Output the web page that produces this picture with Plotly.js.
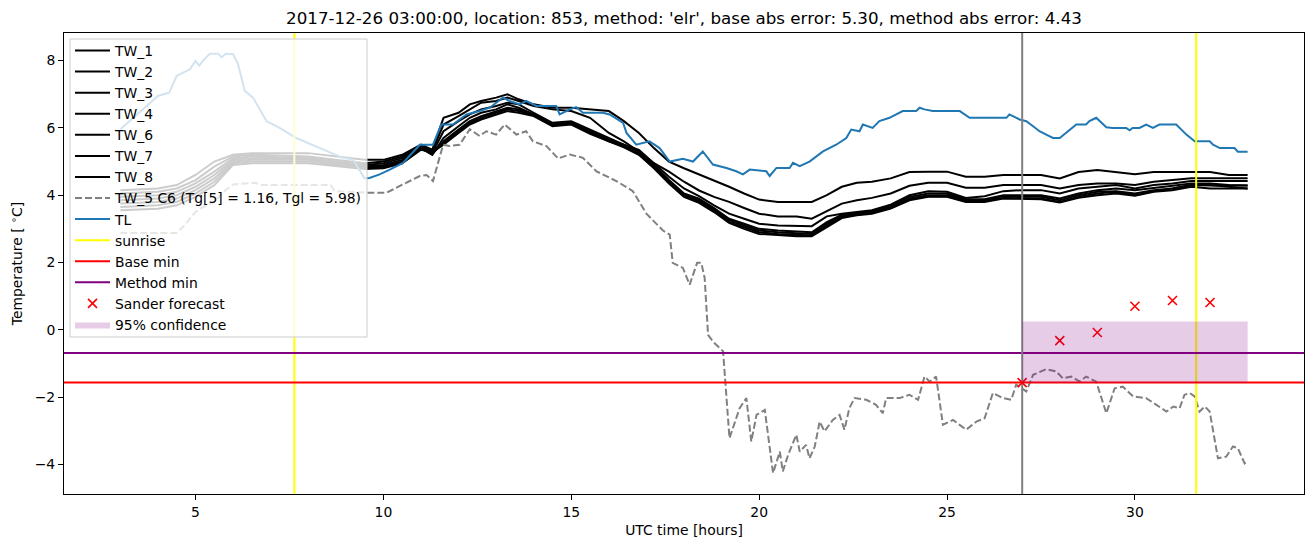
<!DOCTYPE html>
<html>
<head>
<meta charset="utf-8">
<script src="https://cdn.plot.ly/plotly-3.0.1.min.js"></script>
<style>html,body{margin:0;padding:0;background:#fff}#chart{width:1313px;height:547px}</style>
</head>
<body>
<div id="chart"></div>
<script>
// ---------- data ----------
const chartTitle = "2017-12-26 03:00:00, location: 853, method: 'elr', base abs error: 5.30, method abs error: 4.43";

const twHours = [3, 4, 4.5, 5, 5.5, 6, 6.5, 8, 9.5, 10, 10.5, 11, 11.3, 11.6, 12, 12.3, 12.6, 13, 13.3, 13.6,
  14, 14.5, 15, 15.5, 16, 16.4, 16.8, 17.2, 17.6, 18, 18.4, 18.8, 19.2, 19.6, 20, 20.5, 21, 21.4, 21.8, 22.2,
  22.6, 23, 23.5, 24, 24.5, 25, 25.5, 26, 26.5, 27, 27.5, 28, 28.5, 29, 29.5, 30, 30.5, 31, 31.5, 32, 32.5, 33];

const tw1 = [4.15, 4.2, 4.3, 4.6, 5.0, 5.2, 5.25, 5.25, 5.05, 5.05, 5.2, 5.5, 5.35, 6.3, 6.45, 6.7, 6.8, 6.9, 7.0, 6.85,
  6.7, 6.6, 6.6, 6.55, 6.5, 6.2, 5.85, 5.4, 5.0, 4.8, 4.62, 4.45, 4.25, 4.05, 3.87, 3.8, 3.8, 3.8, 4.0, 4.25,
  4.37, 4.4, 4.5, 4.69, 4.7, 4.7, 4.55, 4.55, 4.6, 4.6, 4.6, 4.5, 4.69, 4.75, 4.69, 4.62, 4.69, 4.69, 4.69, 4.69, 4.6, 4.6];
const tw2 = [4.05, 4.1, 4.2, 4.45, 4.85, 5.15, 5.2, 5.15, 4.95, 5.0, 5.15, 5.45, 5.3, 6.1, 6.35, 6.55, 6.75, 6.8, 6.9, 6.8,
  6.65, 6.55, 6.5, 6.3, 5.85, 5.6, 5.3, 4.95, 4.7, 4.4, 4.14, 3.95, 3.8, 3.62, 3.45, 3.37, 3.37, 3.3, 3.52, 3.75,
  3.85, 3.92, 4.05, 4.28, 4.37, 4.37, 4.22, 4.22, 4.3, 4.3, 4.3, 4.2, 4.3, 4.35, 4.35, 4.3, 4.4, 4.45, 4.5, 4.5, 4.5, 4.5];
const tw3 = [3.95, 4.0, 4.1, 4.35, 4.7, 5.1, 5.15, 5.1, 4.9, 4.95, 5.1, 5.45, 5.25, 5.9, 6.2, 6.4, 6.55, 6.65, 6.75, 6.7,
  6.45, 6.15, 6.2, 5.95, 5.7, 5.5, 5.35, 4.95, 4.55, 4.2, 3.97, 3.7, 3.45, 3.3, 3.15, 3.1, 3.08, 3.08, 3.37, 3.45,
  3.5, 3.55, 3.72, 4.0, 4.12, 4.1, 3.92, 3.97, 4.12, 4.15, 4.15, 4.05, 4.2, 4.25, 4.3, 4.2, 4.3, 4.35, 4.42, 4.42, 4.42, 4.42];
const tw4 = [3.85, 3.9, 4.0, 4.25, 4.6, 5.05, 5.1, 5.1, 4.85, 4.9, 5.05, 5.4, 5.2, 5.7, 6.05, 6.3, 6.45, 6.55, 6.7, 6.6,
  6.4, 6.1, 6.15, 5.9, 5.65, 5.5, 5.3, 4.9, 4.45, 4.05, 3.9, 3.62, 3.3, 3.15, 3.0, 2.95, 2.92, 2.9, 3.2, 3.42,
  3.48, 3.52, 3.7, 3.95, 4.05, 4.05, 3.88, 3.88, 4.0, 4.0, 4.0, 3.9, 4.05, 4.15, 4.2, 4.15, 4.22, 4.29, 4.35, 4.35, 4.3, 4.29];
const tw6 = [3.75, 3.8, 3.9, 4.15, 4.5, 5.0, 5.05, 5.05, 4.82, 4.85, 5.0, 5.4, 5.22, 5.6, 5.95, 6.2, 6.35, 6.5, 6.6, 6.55,
  6.4, 6.1, 6.15, 5.85, 5.6, 5.45, 5.25, 4.85, 4.4, 4.0, 3.85, 3.58, 3.25, 3.1, 2.95, 2.9, 2.88, 2.85, 3.15, 3.38,
  3.45, 3.5, 3.65, 3.9, 4.0, 4.0, 3.85, 3.85, 3.97, 3.97, 3.95, 3.85, 4.0, 4.1, 4.12, 4.05, 4.15, 4.2, 4.3, 4.3, 4.25, 4.2];
const tw7 = [3.65, 3.7, 3.8, 4.05, 4.4, 4.95, 5.0, 5.0, 4.8, 4.82, 4.97, 5.38, 5.25, 5.55, 5.9, 6.15, 6.3, 6.45, 6.55, 6.5,
  6.38, 6.08, 6.12, 5.85, 5.62, 5.45, 5.22, 4.82, 4.38, 3.98, 3.8, 3.55, 3.2, 3.05, 2.9, 2.85, 2.82, 2.8, 3.1, 3.35,
  3.42, 3.48, 3.62, 3.88, 3.97, 3.97, 3.82, 3.82, 3.92, 3.92, 3.9, 3.8, 3.95, 4.05, 4.1, 4.0, 4.12, 4.2, 4.3, 4.29, 4.29, 4.29];
const tw8 = [3.55, 3.6, 3.7, 3.95, 4.3, 4.9, 4.95, 4.95, 4.78, 4.8, 4.95, 5.35, 5.28, 5.5, 5.85, 6.1, 6.25, 6.4, 6.5, 6.45,
  6.35, 6.05, 6.1, 5.82, 5.6, 5.42, 5.2, 4.8, 4.35, 3.95, 3.77, 3.5, 3.18, 3.0, 2.85, 2.82, 2.78, 2.78, 3.05, 3.32,
  3.4, 3.45, 3.6, 3.85, 3.95, 3.95, 3.8, 3.8, 3.9, 3.9, 3.88, 3.78, 3.92, 4.0, 4.05, 3.98, 4.1, 4.15, 4.25, 4.2, 4.2, 4.2];

const tw5Hours = [3.0, 4.5, 4.7, 5.0, 5.2, 5.5, 5.8, 6.0, 6.6, 6.7, 8.6, 8.7, 9.63, 10.08, 10.52, 10.97, 11.15, 11.32, 11.59, 11.76,
  12.03, 12.3, 12.56, 12.74, 13.0, 13.23, 13.54, 13.8, 13.98, 14.34, 14.65, 14.96, 15.31, 15.67, 16.2, 16.64, 17.0, 17.44, 17.62, 17.7,
  17.97, 18.15, 18.35, 18.46, 18.55, 18.64, 18.77, 19.04, 19.21, 19.48, 19.66, 19.79, 19.93, 20.15, 20.37, 20.55, 20.63, 20.77, 20.99, 21.08,
  21.25, 21.34, 21.48, 21.61, 21.74, 21.96, 22.14, 22.27, 22.4, 22.54, 22.85, 23.11, 23.29, 23.38, 23.74, 24.0, 24.23, 24.4, 24.54, 24.71,
  24.89, 25.16, 25.51, 25.78, 26.0, 26.22, 26.49, 26.71, 26.84, 27.11, 27.29, 27.64, 27.91, 28.08, 28.31, 28.53, 28.7, 28.97, 29.24, 29.46,
  29.68, 29.95, 30.3, 30.57, 30.84, 31.02, 31.19, 31.32, 31.46, 31.59, 31.72, 31.86, 31.99, 32.21, 32.43, 32.61, 32.74, 32.92, 33.0];
const tw5 = [2.88, 2.88, 3.1, 3.5, 3.65, 3.8, 4.15, 4.32, 4.37, 4.3, 4.3, 4.12, 4.07, 4.07, 4.32, 4.57, 4.6, 4.42, 5.5, 5.46,
  5.5, 5.96, 5.76, 5.9, 5.8, 6.1, 5.8, 5.9, 5.6, 5.46, 5.09, 5.21, 5.11, 4.71, 4.42, 4.12, 3.45, 2.95, 2.83, 1.99,
  1.84, 1.34, 1.99, 1.99, 1.54, -0.15, -0.35, -0.64, -3.22, -2.33, -2.03, -3.32, -2.53, -2.38, -4.26, -3.62, -4.21, -3.72, -3.12, -3.62,
  -3.42, -3.82, -3.47, -2.73, -3.02, -2.68, -2.53, -2.97, -2.33, -2.03, -2.08, -2.23, -2.48, -2.03, -2.03, -1.93, -2.08, -1.39, -1.54, -1.39,
  -2.82, -2.68, -2.97, -2.73, -2.63, -1.88, -2.03, -2.08, -1.63, -1.83, -1.34, -1.17, -1.24, -1.44, -1.39, -1.54, -1.39, -1.54, -2.48, -1.74,
  -1.69, -1.98, -2.03, -2.23, -2.43, -2.28, -2.33, -1.93, -1.88, -1.98, -2.43, -2.28, -2.43, -3.82, -3.77, -3.47, -3.52, -3.97, -3.9];

const tlHours = [3.0, 3.3, 3.5, 4.0, 4.3, 4.5, 4.85, 5.0, 5.1, 5.2, 5.38, 5.6, 5.7, 5.8, 6.0, 6.13, 6.31, 6.53, 6.89, 7.24,
  7.68, 8.39, 8.92, 9.19, 9.37, 9.5, 9.63, 9.9, 10.17, 10.52, 10.97, 11.32, 11.54, 11.85, 12.21, 12.56, 12.83, 13.18, 13.36, 13.63,
  13.8, 14.07, 14.6, 14.69, 14.96, 15.13, 15.31, 15.84, 16.02, 16.38, 16.47, 16.73, 17.08, 17.35, 17.62, 17.97, 18.24, 18.5, 18.77, 19.13,
  19.39, 19.57, 19.75, 20.19, 20.28, 20.46, 20.81, 20.9, 21.08, 21.34, 21.7, 22.05, 22.32, 22.45, 22.67, 22.76, 23.02, 23.2, 23.47, 23.82,
  24.18, 24.27, 24.4, 24.62, 25.34, 25.6, 26.58, 26.66, 26.93, 27.11, 27.29, 27.46, 27.64, 27.82, 28.0, 28.17, 28.44, 28.7, 28.79, 28.97,
  29.24, 29.41, 29.77, 29.86, 29.94, 30.12, 30.3, 30.48, 30.65, 31.1, 31.28, 31.37, 31.59, 31.99, 32.08, 32.26, 32.65, 32.74, 33.0];
const tl = [5.96, 6.25, 6.45, 6.95, 7.05, 7.55, 7.74, 7.99, 7.85, 8.0, 8.2, 8.2, 8.1, 8.2, 8.19, 7.9, 7.1, 6.9, 6.2, 6.0,
  5.7, 5.36, 5.11, 5.06, 4.71, 4.5, 4.51, 4.62, 4.76, 4.96, 5.5, 5.5, 6.1, 6.1, 6.4, 6.5, 6.6, 6.9, 6.8, 6.7,
  6.8, 6.65, 6.65, 6.4, 6.55, 6.62, 6.45, 6.45, 6.4, 6.15, 5.85, 5.5, 5.6, 5.4, 5.0, 5.08, 5.0, 5.3, 4.91, 4.81,
  4.71, 4.62, 4.76, 4.71, 4.57, 4.81, 4.81, 4.96, 4.86, 5.0, 5.3, 5.5, 5.7, 5.95, 5.9, 6.1, 6.0, 6.2, 6.3, 6.5,
  6.5, 6.6, 6.55, 6.5, 6.5, 6.3, 6.3, 6.4, 6.25, 6.2, 6.05, 5.9, 5.8, 5.7, 5.7, 5.85, 6.1, 6.1, 6.2, 6.3,
  6.02, 6.0, 6.0, 5.93, 6.0, 6.0, 6.1, 6.0, 6.1, 6.1, 5.9, 5.8, 5.6, 5.6, 5.5, 5.4, 5.4, 5.29, 5.29];

const sunriseHours = [7.63, 31.63];
const forecastHour = 27;
const baseMin = -1.57;
const methodMin = -0.69;
const sanderHours = [27, 28, 29, 30, 31, 32];
const sanderValues = [-1.57, -0.32, -0.08, 0.70, 0.87, 0.81];
const confHours = [27, 33];
const confLower = -1.58;
const confUpper = 0.25;

// ---------- layout constants ----------
const X_RANGE = [1.5, 34.5];
const Y_RANGE = [-4.88, 8.82];
const FONT = 'DejaVu Sans, sans-serif';
const PLOT = {l: 64, r: 1304, t: 33, b: 494};
const px2x = p => (p - PLOT.l) / (PLOT.r - PLOT.l);
const px2y = p => 1 - (p - PLOT.t) / (PLOT.b - PLOT.t);

const traces = [];
const twSeries = [['TW_1', tw1], ['TW_2', tw2], ['TW_3', tw3], ['TW_4', tw4], ['TW_6', tw6], ['TW_7', tw7], ['TW_8', tw8]];
twSeries.forEach(([name, vals]) => {
  traces.push({x: twHours, y: vals, name: name, mode: 'lines', type: 'scatter',
    line: {color: 'black', width: 2}});
});
traces.push({x: tw5Hours, y: tw5, name: 'TW_5 C6 (Tg[5] = 1.16, Tgl = 5.98)', mode: 'lines', type: 'scatter',
  line: {color: 'gray', width: 2, dash: '7px,3px'}});
traces.push({x: tlHours, y: tl, name: 'TL', mode: 'lines', type: 'scatter',
  line: {color: '#1f77b4', width: 2}});
const srx = [], sry = [];
sunriseHours.forEach((h, i) => { if (i) { srx.push(null); sry.push(null); } srx.push(h, h); sry.push(Y_RANGE[0], Y_RANGE[1]); });
traces.push({x: srx, y: sry, name: 'sunrise', mode: 'lines', type: 'scatter', line: {color: 'yellow', width: 2}});
traces.push({x: X_RANGE, y: [baseMin, baseMin], name: 'Base min', mode: 'lines', type: 'scatter', line: {color: 'red', width: 2}});
traces.push({x: X_RANGE, y: [methodMin, methodMin], name: 'Method min', mode: 'lines', type: 'scatter', line: {color: 'purple', width: 2}});
traces.push({x: [forecastHour, forecastHour], y: Y_RANGE, mode: 'lines', type: 'scatter', showlegend: false,
  line: {color: 'gray', width: 2}, hoverinfo: 'skip'});
traces.push({x: sanderHours, y: sanderValues, name: 'Sander forecast', mode: 'markers', type: 'scatter',
  marker: {symbol: 'x-thin', size: 9, color: 'red', line: {color: 'red', width: 1.6}}});
traces.push({x: [confHours[0], confHours[1], confHours[1], confHours[0], confHours[0]],
  y: [confLower, confLower, confUpper, confUpper, confLower],
  name: '95% confidence', mode: 'lines', type: 'scatter', fill: 'toself',
  fillcolor: 'rgba(128,0,128,0.2)', line: {width: 0, color: 'rgba(128,0,128,0)'}});

const layout = {
  width: 1313, height: 547,
  margin: {l: 64, r: 9, t: 33, b: 53},
  paper_bgcolor: 'white', plot_bgcolor: 'white',
  font: {family: FONT, size: 13.9, color: 'black'},
  showlegend: true,
  title: {text: chartTitle, font: {family: FONT, size: 16.7, color: 'black'},
    xref: 'paper', x: 0.5, xanchor: 'center', yref: 'container', y: 1 - 18/547, yanchor: 'middle'},
  xaxis: {range: X_RANGE, tickvals: [5, 10, 15, 20, 25, 30], ticks: 'outside', ticklen: 5, tickwidth: 1,
    tickcolor: 'black', showline: true, linecolor: 'black', linewidth: 1, mirror: true,
    showgrid: false, zeroline: false, tickfont: {size: 13.9},
    title: {text: 'UTC time [hours]', font: {size: 13.9}, standoff: 6}},
  yaxis: {range: Y_RANGE, tickvals: [-4, -2, 0, 2, 4, 6, 8], ticks: 'outside', ticklen: 5, tickwidth: 1,
    tickcolor: 'black', showline: true, linecolor: 'black', linewidth: 1, mirror: true,
    showgrid: false, zeroline: false, tickfont: {size: 13.9},
    title: {text: 'Temperature [ <sup>∘</sup>C]', font: {size: 13.9}, standoff: 8}},
  // legend frame (matplotlib-style translucent box)
  shapes: [{type: 'rect', xref: 'paper', yref: 'paper', layer: 'above',
    x0: px2x(70), x1: px2x(367), y0: px2y(337), y1: px2y(39),
    fillcolor: 'rgba(255,255,255,0.8)', line: {color: '#cccccc', width: 1}}],
  legend: {x: px2x(70), y: px2y(35), xanchor: 'left', yanchor: 'top',
    bgcolor: 'rgba(0,0,0,0)', borderwidth: 0, itemwidth: 35,
    font: {family: FONT, size: 13.9, color: 'black'}, tracegroupgap: 0}
};

Plotly.newPlot('chart', traces, layout, {staticPlot: true, displayModeBar: false});
</script>
</body>
</html>
